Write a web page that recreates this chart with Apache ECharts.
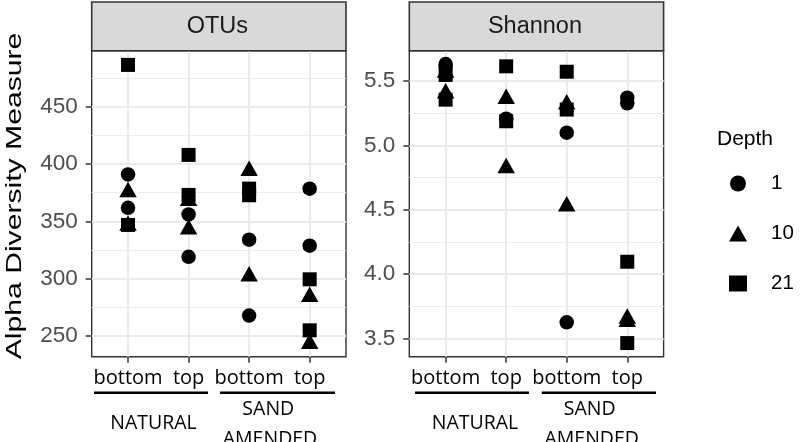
<!DOCTYPE html>
<html>
<head>
<meta charset="utf-8">
<script src="https://cdn.jsdelivr.net/npm/echarts@6/dist/echarts.min.js"></script>
<style>
  html, body { margin: 0; padding: 0; background: #fff; }
  #chart { width: 800px; height: 442px; }
</style>
</head>
<body>
<div id="chart"></div>
<script>
const categories = ['bottom', 'top', 'bottom', 'top']
const depths = ['1', '10', '21']
const shapes = ['circle', 'triangle', 'rect']

// two replicates per category, in category order
const otus1 = [[390.9, 361.8], [356, 319], [334, 267.8], [378.4, 328.7]]
const otus10 = [[377.7, 348.5], [370, 345.3], [396.2, 304.3], [286.4, 245.3]]
const otus21 = [[486.4, 346.8], [407.9, 373], [378.5, 372.7], [299.4, 254.9]]

const shannon1 = [[5.632, 5.61], [5.207, 5.2], [5.098, 3.624], [5.37, 5.327]]
const shannon10 = [[5.586, 5.424], [5.381, 4.843], [5.339, 4.546], [3.674, 3.648]]
const shannon21 = [[5.547, 5.355], [5.614, 5.187], [5.572, 5.278], [4.095, 3.463]]

const otusTicks = [250, 300, 350, 400, 450]
const otusMinor = [275, 325, 375, 425, 475]
const shannonTicks = [3.5, 4.0, 4.5, 5.0, 5.5]
const shannonMinor = [3.75, 4.25, 4.75, 5.25]

const groupNames = [['NATURAL'], ['SAND', 'AMENDED']]

const panels = [
  { title: 'OTUs', left: 91.7, min: 231.9, max: 498.8, ticks: otusTicks, minor: otusMinor, digits: 0,
    series: [otus1, otus10, otus21],
    lines: [[94, 208], [220, 335]], labelX: [153.5, 268.3, 270] },
  { title: 'Shannon', left: 409.3, min: 3.357, max: 5.7355, ticks: shannonTicks, minor: shannonMinor, digits: 1,
    series: [shannon1, shannon10, shannon21],
    lines: [[415, 529], [541.7, 656]], labelX: [475, 589.7, 591.7] },
]

const TOP = 50.7
const WIDTH = 254.3
const HEIGHT = 306
const INK = '#333333'
const SANS = '"Liberation Sans", Arial, Helvetica, sans-serif'
const LABEL_FONT = '"Open Sans", "Noto Sans", sans-serif'

function points(rows) {
  const out = []
  rows.forEach((reps, i) => reps.forEach((v) => out.push([i + 1, v])))
  return out
}

const symbolSizes = { circle: 14.5, triangle: [17.5, 15.5], rect: 14 }

const grids = []
const xAxes = []
const yAxes = []
const series = []
const graphics = []

panels.forEach((p, pi) => {
  grids.push({
    left: p.left, top: TOP, width: WIDTH, height: HEIGHT,
    show: true, backgroundColor: '#fff', borderColor: INK, borderWidth: 1.4,
  })
  xAxes.push({
    type: 'value', gridIndex: pi, min: 0.4, max: 4.6,
    axisLine: { show: false },
    axisTick: { show: true, customValues: [1, 2, 3, 4], length: 6, lineStyle: { color: INK, width: 1.5 } },
    axisLabel: {
      customValues: [1, 2, 3, 4], margin: 12,
      formatter: (v) => categories[Math.round(v) - 1] ?? '',
      fontFamily: LABEL_FONT, fontSize: 20, color: '#000',
    },
    splitLine: { show: true, lineStyle: { color: '#EBEBEB', width: 2 } },
  })
  yAxes.push({
    type: 'value', gridIndex: pi, min: p.min, max: p.max,
    axisLine: { show: false },
    axisTick: { show: true, customValues: p.ticks, length: 6, lineStyle: { color: INK, width: 1.5 } },
    axisLabel: {
      customValues: p.ticks, margin: 14,
      formatter: (v) => v.toFixed(p.digits),
      fontFamily: SANS, fontSize: 22.5, color: '#4D4D4D',
    },
    splitLine: { show: true, lineStyle: { color: '#EBEBEB', width: 2 } },
  })
  // minor grid lines
  yAxes.push({
    type: 'value', gridIndex: pi, min: p.min, max: p.max, position: 'left',
    axisLine: { show: false },
    axisTick: { show: false, customValues: p.minor },
    axisLabel: { show: false, customValues: p.minor },
    splitLine: { show: true, lineStyle: { color: '#EDEDED', width: 1 } },
  })

  p.series.forEach((rows, di) => {
    const shape = shapes[di]
    series.push({
      name: depths[di], type: 'scatter',
      xAxisIndex: pi, yAxisIndex: pi * 2,
      symbol: shape, symbolSize: symbolSizes[shape],
      itemStyle: { color: '#000', opacity: 1 },
      emphasis: { disabled: true },
      data: points(rows),
    })
  })

  // facet strip
  graphics.push({
    type: 'rect', z: 10,
    shape: { x: p.left, y: 2, width: WIDTH, height: TOP - 2 },
    style: { fill: '#D9D9D9', stroke: INK, lineWidth: 1.6 },
  })
  graphics.push({
    type: 'text', z: 11, x: p.left + WIDTH / 2 - 1.5, y: 27,
    style: { text: p.title, font: `23.5px ${SANS}`, fill: '#1A1A1A', textAlign: 'center', textVerticalAlign: 'middle' },
  })

  // grouping under the axis
  p.lines.forEach(([x1, x2]) => {
    graphics.push({
      type: 'line', z: 10,
      shape: { x1, y1: 392.7, x2, y2: 392.7 },
      style: { stroke: '#000', lineWidth: 2.6 },
    })
  })
  const groupText = [
    [groupNames[0][0], p.labelX[0], 423.8],
    [groupNames[1][0], p.labelX[1], 409.5],
    [groupNames[1][1], p.labelX[2], 439.5],
  ]
  groupText.forEach(([text, x, y]) => {
    graphics.push({
      type: 'text', z: 10, x, y,
      style: { text, font: `19.5px ${LABEL_FONT}`, fill: '#000', textAlign: 'center', textVerticalAlign: 'middle' },
    })
  })
})

graphics.push({
  type: 'text', z: 10, x: 14.5, y: 196, rotation: Math.PI / 2, scaleX: 1.37,
  style: { text: 'Alpha Diversity Measure', font: `22px ${SANS}`, fill: '#000', textAlign: 'center', textVerticalAlign: 'middle' },
})
graphics.push({
  type: 'text', z: 10, x: 717, y: 139,
  style: { text: 'Depth', font: `21px ${SANS}`, fill: '#000', textAlign: 'left', textVerticalAlign: 'middle' },
})

const chart = echarts.init(document.getElementById('chart'), null, { renderer: 'canvas' })
chart.setOption({
  animation: false,
  backgroundColor: '#fff',
  grid: grids,
  xAxis: xAxes,
  yAxis: yAxes,
  legend: {
    orient: 'vertical', left: 724, top: 168,
    itemWidth: 18, itemHeight: 16, itemGap: 29,
    data: depths,
    textStyle: { fontFamily: SANS, fontSize: 20.5, lineHeight: 20, color: '#000', padding: [0, 0, 0, 19] },
    selectedMode: false,
  },
  graphic: graphics,
  series,
})
</script>
</body>
</html>
